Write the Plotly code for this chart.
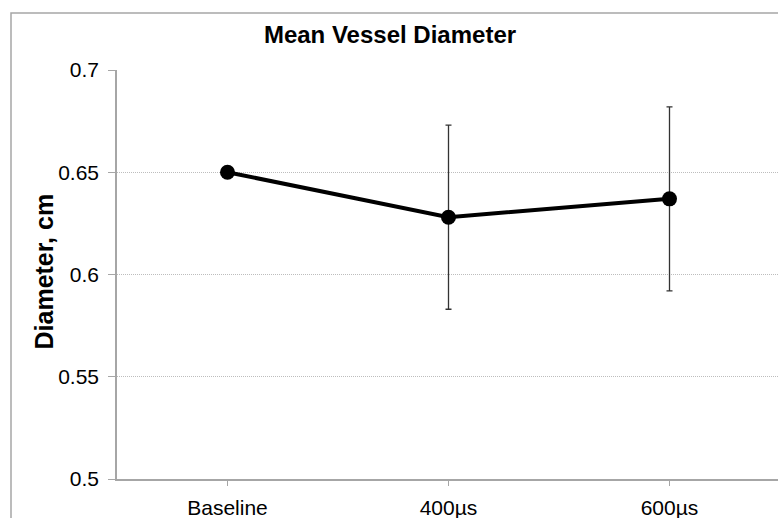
import plotly.graph_objects as go

categories = ["Baseline", "400\u00b5s", "600\u00b5s"]
mean_diameter = [0.650, 0.628, 0.637]
error_plus = [0.0, 0.045, 0.045]
tick_vals = [0.5, 0.55, 0.6, 0.65, 0.7]
tick_text = ["0.5", "0.55", "0.6", "0.65", "0.7"]

FONT = "Liberation Sans, Arial, sans-serif"

fig = go.Figure()
fig.add_trace(go.Scatter(
    x=[0, 1, 2], y=mean_diameter,
    mode="lines+markers",
    line=dict(color="black", width=4),
    marker=dict(color="black", size=15),
    error_y=dict(type="data", array=error_plus, visible=True,
                 color="#333333", thickness=1.3, width=3),
    showlegend=False,
))

W, H = 778, 518
L, R, T, B = 117, 0, 70, 39
pw, ph = W - L - R, H - T - B

fig.update_layout(
    width=W, height=H,
    margin=dict(l=L, r=R, t=T, b=B, pad=0),
    paper_bgcolor="white", plot_bgcolor="white",
    font=dict(family=FONT, color="black", size=21),
    title=dict(text="<b>Mean Vessel Diameter</b>", x=390 / W, xanchor="center",
               y=1 - 35 / H, yanchor="middle",
               font=dict(family=FONT, size=24, color="black")),
    xaxis=dict(
        tickmode="array", tickvals=[0, 1, 2], ticktext=categories,
        range=[-0.5, -0.5 + pw / 221.0],
        showgrid=False, zeroline=False,
        showline=True, linecolor="#a6a6a6", linewidth=1.5,
        ticks="outside", ticklen=5, tickcolor="#a6a6a6",
        ticklabelstandoff=4,
        tickfont=dict(family=FONT, size=21, color="black"),
    ),
    yaxis=dict(
        range=[0.5, 0.7], tickmode="array", tickvals=tick_vals, ticktext=tick_text,
        showgrid=True, gridcolor="#bdbdbd", griddash="1px,1px", gridwidth=1,
        zeroline=False,
        showline=True, linecolor="#a6a6a6", linewidth=1.5,
        ticks="outside", ticklen=7, tickcolor="#a6a6a6",
        ticklabelstandoff=5,
        tickfont=dict(family=FONT, size=21, color="black"),
    ),
)

fig.add_annotation(text="<b>Diameter, cm</b>", textangle=-90,
                   xref="paper", yref="paper",
                   x=(43 - L) / pw, y=(479 - 271.5) / ph,
                   xanchor="center", yanchor="middle", showarrow=False,
                   font=dict(family=FONT, size=25, color="black"))

# chart outer border (cropped at right and bottom)
fig.add_shape(type="rect", xref="paper", yref="paper",
              x0=(11 - L) / pw, x1=1.2, y0=-0.3, y1=1 + (T - 13) / ph,
              line=dict(color="#a6a6a6", width=1.5), fillcolor="rgba(0,0,0,0)",
              layer="below")

fig.write_html("out.html")
